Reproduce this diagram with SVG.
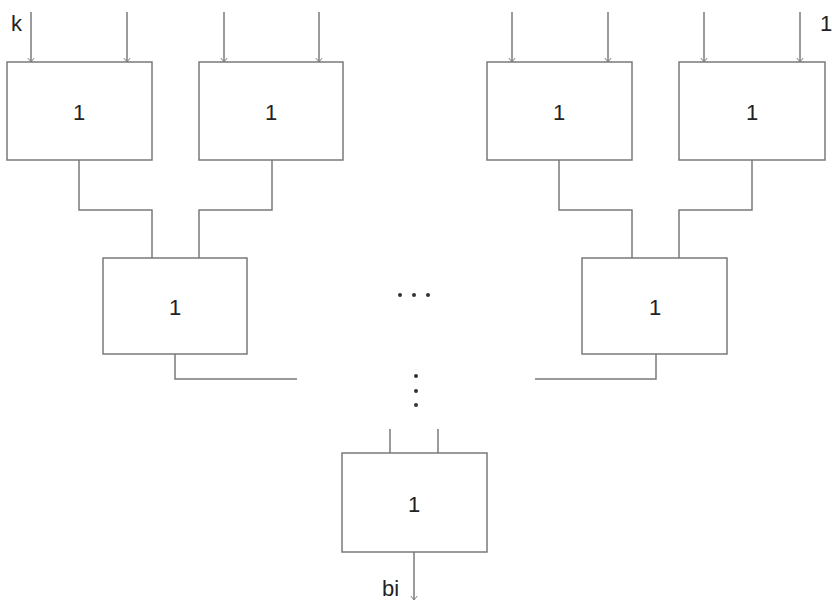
<svg xmlns="http://www.w3.org/2000/svg" width="832" height="604" viewBox="0 0 832 604">
<style>
.box{fill:#fff;stroke:#7a7a7a;stroke-width:1.5}
.ln{fill:none;stroke:#7a7a7a;stroke-width:1.5}
.t{font-family:"Liberation Sans",Arial,sans-serif;font-size:22px;fill:#222;text-anchor:middle}
.lbl{font-family:"Liberation Sans",Arial,sans-serif;font-size:22px;fill:#222}
.dot{fill:#333}
</style>
<defs>
<marker id="ah" viewBox="0 0 10 10" refX="5" refY="9" markerWidth="8" markerHeight="8" orient="0" markerUnits="userSpaceOnUse">
<path d="M1,4 L5,9 L9,4" fill="none" stroke="#7a7a7a" stroke-width="1.2"/>
</marker>
</defs>
<rect width="832" height="604" fill="#fff"/>
<g id="connectors">
<line class="ln" x1="31" y1="12" x2="31" y2="62" marker-end="url(#ah)"/>
<line class="ln" x1="127" y1="12" x2="127" y2="62" marker-end="url(#ah)"/>
<line class="ln" x1="224" y1="12" x2="224" y2="62" marker-end="url(#ah)"/>
<line class="ln" x1="319" y1="12" x2="319" y2="62" marker-end="url(#ah)"/>
<line class="ln" x1="512" y1="12" x2="512" y2="62" marker-end="url(#ah)"/>
<line class="ln" x1="608" y1="12" x2="608" y2="62" marker-end="url(#ah)"/>
<line class="ln" x1="704" y1="12" x2="704" y2="62" marker-end="url(#ah)"/>
<line class="ln" x1="800" y1="12" x2="800" y2="62" marker-end="url(#ah)"/>
<polyline class="ln" points="79,160 79,210 152,210 152,258"/>
<polyline class="ln" points="272,160 272,210 199,210 199,258"/>
<polyline class="ln" points="559,160 559,210 632,210 632,258"/>
<polyline class="ln" points="752,160 752,210 679,210 679,258"/>
<polyline class="ln" points="175,354 175,379 297,379"/>
<polyline class="ln" points="656,354 656,379 535,379"/>
<line class="ln" x1="390" y1="429" x2="390" y2="453"/>
<line class="ln" x1="438" y1="429" x2="438" y2="453"/>
<line class="ln" x1="414" y1="552" x2="414" y2="600" marker-end="url(#ah)"/>
</g>
<g id="n1"><rect class="box" x="7" y="62" width="145" height="98"/><text class="t" x="79" y="120">1</text></g>
<g id="n2"><rect class="box" x="199" y="62" width="144" height="98"/><text class="t" x="271" y="120">1</text></g>
<g id="n3"><rect class="box" x="487" y="62" width="145" height="98"/><text class="t" x="559" y="120">1</text></g>
<g id="n4"><rect class="box" x="679" y="62" width="146" height="98"/><text class="t" x="752" y="120">1</text></g>
<g id="n5"><rect class="box" x="103" y="258" width="144" height="96"/><text class="t" x="175" y="315">1</text></g>
<g id="n6"><rect class="box" x="582" y="258" width="145" height="96"/><text class="t" x="655" y="315">1</text></g>
<g id="n7"><rect class="box" x="342" y="453" width="145" height="99"/><text class="t" x="414" y="512">1</text></g>
<g id="labels">
<text class="lbl" x="11" y="31">k</text>
<text class="lbl" x="820" y="31">1</text>
<text class="lbl" x="382" y="596">bi</text>
</g>
<g id="ellipsis">
<circle class="dot" cx="400" cy="295" r="2"/>
<circle class="dot" cx="414" cy="295" r="2"/>
<circle class="dot" cx="428" cy="295" r="2"/>
<circle class="dot" cx="416" cy="376" r="2"/>
<circle class="dot" cx="416" cy="391" r="2"/>
<circle class="dot" cx="416" cy="405" r="2"/>
</g>
</svg>
